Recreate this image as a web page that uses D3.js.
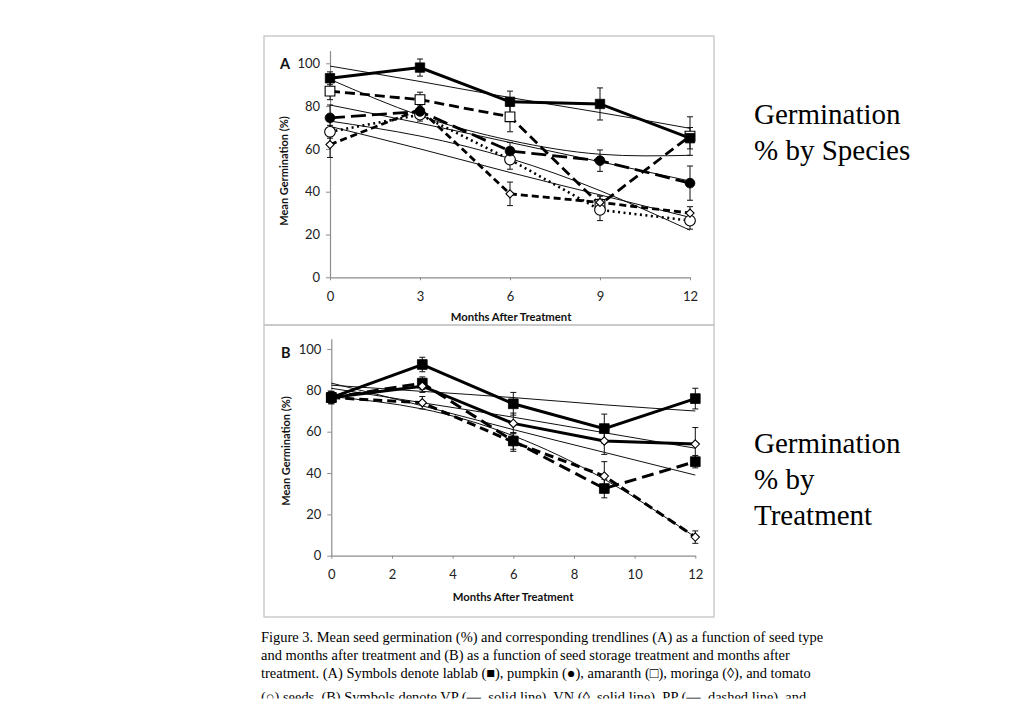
<!DOCTYPE html>
<html><head><meta charset="utf-8">
<script src="https://cdn.jsdelivr.net/npm/d3@7"></script>
<style>
html,body{margin:0;padding:0;background:#fff;}
svg{display:block;}
</style></head>
<body>
<svg id="c" width="1024" height="724"></svg>
<script>
// ---------- Panel A data (by species) ----------
const monthsA = [0, 3, 6, 9, 12];
const xTicksA = [0, 3, 6, 9, 12];
const yTicks = [0, 20, 40, 60, 80, 100];
const lablab = [93, 98, 82, 81, 65];
const lablabErr = [3, 4, 5, 7.5, 5];
const lablabTrend = [98.7, 91.5, 84, 77, 69.6];
const amaranth = [87, 83, 75, 34, 66];
const amaranthErr = [4, 3.5, 7, 4, 9];
const amaranthTrend = [92.5, 75.5, 64, 57.5, 57];
const pumpkin = [74.5, 77.5, 59, 54.5, 44];
const pumpkinErr = [6, 3, 4, 5, 8];
const pumpkinTrend = [80.5, 72, 63, 54, 45];
const moringa = [62, 78.5, 39, 35, 30];
const moringaErr = [6, 3, 5.5, 3, 3];
const moringaTrend = [70.5, 60, 49, 38.5, 28];
const tomato = [68, 76, 55, 31.5, 26.5];
const tomatoErr = [3, 3, 4.5, 5, 4];
const tomatoTrend = [73, 66, 55.5, 40.5, 22];

// ---------- Panel B data (by treatment) ----------
const monthsB = [0, 3, 6, 9, 12];
const xTicksB = [0, 2, 4, 6, 8, 10, 12];
const VP = [76.5, 92.5, 73.5, 61.5, 76];
const VPErr = [2.5, 3.5, 5.5, 7, 5];
const VPTrend = [82.5, 79.5, 76.5, 73, 70];
const VN = [76.5, 82, 64, 55.5, 54];
const VNErr = [3, 3, 5, 6.5, 8];
const VNTrend = [81, 74, 67, 59.5, 52];
const PP = [76.5, 83.5, 55.5, 32.5, 45.5];
const PPErr = [2.5, 3, 4, 4.5, 3];
const PPTrend = [83.5, 72.5, 61, 50, 39];
const PN = [76.5, 74, 55, 38.5, 9];
const PNErr = [3, 3, 4.5, 7, 3];
const PNTrend = [77, 71, 58, 37, 9];

const captionLines = [
  "Figure 3. Mean seed germination (%) and corresponding trendlines (A) as a function of seed type",
  "and months after treatment and (B) as a function of seed storage treatment and months after",
  "treatment. (A) Symbols denote lablab (\u25A0), pumpkin (\u25CF), amaranth (\u25A1), moringa (\u25CA), and tomato",
  "(\u25CB) seeds.  (B) Symbols denote VP (\u25AC, solid line), VN (\u25CA, solid line), PP (\u25AC, dashed line), and"
];

const svg = d3.select("#c");
const chartFont = "Lato, 'Open Sans', sans-serif";

function panel(cfg) {
  const g = svg.append("g");
  g.append("rect").attr("x", cfg.frame[0]).attr("y", cfg.frame[1])
    .attr("width", cfg.frame[2]).attr("height", cfg.frame[3])
    .attr("fill", "none").attr("stroke", "#c4c4c4").attr("stroke-width", 1.3);
  const x = d3.scaleLinear().domain([0, 12]).range(cfg.xr);
  const y = d3.scaleLinear().domain([0, 100]).range(cfg.yr);
  const yAxisScale = d3.scaleLinear().domain([0, cfg.ymax]).range([y(0), y(cfg.ymax)]);
  const ya = g.append("g").attr("transform", `translate(${x(0)},0)`)
    .call(d3.axisLeft(yAxisScale).tickValues(yTicks).tickSize(4).tickSizeOuter(0).tickPadding(6));
  const xa = g.append("g").attr("transform", `translate(0,${y(0)})`)
    .call(d3.axisBottom(x).tickValues(cfg.xticks).tickSize(3).tickSizeOuter(0).tickPadding(11));
  [ya, xa].forEach(a => {
    a.select(".domain").attr("stroke", "#8c8c8c").attr("stroke-width", 1.2);
    a.selectAll(".tick line").attr("stroke", "#8c8c8c");
    a.selectAll(".tick text").attr("fill", "#222").style("font-family", chartFont).style("font-size", "13px");
  });
  g.append("text").attr("x", cfg.xlab[0]).attr("y", cfg.xlab[1]).attr("text-anchor", "middle")
    .style("font-family", chartFont).style("font-weight", "bold").style("font-size", "11.3px").attr("fill", "#111")
    .text("Months After Treatment");
  g.append("text").attr("transform", `translate(${cfg.ylab[0]},${cfg.ylab[1]}) rotate(-90)`).attr("text-anchor", "middle")
    .style("font-family", chartFont).style("font-weight", "bold").style("font-size", "11px").attr("fill", "#111")
    .text("Mean Germination (%)");
  g.append("text").attr("x", cfg.letter[0]).attr("y", cfg.letter[1])
    .style("font-family", chartFont).style("font-weight", "bold").style("font-size", "14.5px").attr("fill", "#111")
    .text(cfg.letterText);

  const months = cfg.months;
  const trendLine = d3.line().x((d, i) => x(months[i])).y(d => y(d)).curve(d3.curveNatural);
  const dataLine = d3.line().x((d, i) => x(months[i])).y(d => y(d));
  cfg.series.forEach(s => {
    g.append("path").attr("d", trendLine(s.trend)).attr("fill", "none")
      .attr("stroke", "#111").attr("stroke-width", 1);
  });
  cfg.series.forEach(s => {
    g.append("path").attr("d", dataLine(s.vals)).attr("fill", "none")
      .attr("stroke", "#000").attr("stroke-width", s.width)
      .attr("stroke-dasharray", s.dash || null);
  });
  cfg.series.forEach(s => {
    const eb = g.append("g").attr("stroke", "#111").attr("stroke-width", 1);
    s.vals.forEach((v, i) => {
      const cx = x(months[i]), e = s.err[i];
      eb.append("line").attr("x1", cx).attr("x2", cx).attr("y1", y(v + e)).attr("y2", y(v - e));
      eb.append("line").attr("x1", cx - 3).attr("x2", cx + 3).attr("y1", y(v + e)).attr("y2", y(v + e));
      eb.append("line").attr("x1", cx - 3).attr("x2", cx + 3).attr("y1", y(v - e)).attr("y2", y(v - e));
    });
  });
  cfg.series.forEach(s => {
    const sym = d3.symbol().type(s.sym).size(s.size);
    g.append("g").selectAll("path").data(s.vals).join("path")
      .attr("transform", (d, i) => `translate(${x(months[i])},${y(d)})`)
      .attr("d", sym)
      .attr("fill", s.filled ? "#000" : "#fff")
      .attr("stroke", "#000").attr("stroke-width", s.filled ? 0.8 : 1.1);
  });
}

panel({
  frame: [264, 36, 450, 289],
  xr: [330, 690], yr: [277.3, 63.3], ymax: 106,
  xticks: xTicksA, months: monthsA,
  xlab: [511, 321], ylab: [288, 171], letter: [280, 69], letterText: "A",
  series: [
    {vals: amaranth, err: amaranthErr, trend: amaranthTrend, width: 2.8, dash: "10,5", sym: d3.symbolSquare, size: 95, filled: false},
    {vals: tomato, err: tomatoErr, trend: tomatoTrend, width: 2.6, dash: "2,3.5", sym: d3.symbolCircle, size: 90, filled: false},
    {vals: moringa, err: moringaErr, trend: moringaTrend, width: 2.8, dash: "7,4", sym: d3.symbolDiamond2, size: 42, filled: false},
    {vals: pumpkin, err: pumpkinErr, trend: pumpkinTrend, width: 2.8, dash: "15,6", sym: d3.symbolCircle, size: 75, filled: true},
    {vals: lablab, err: lablabErr, trend: lablabTrend, width: 3, dash: null, sym: d3.symbolSquare, size: 88, filled: true}
  ]
});

panel({
  frame: [264, 325, 450, 292],
  xr: [331.3, 695.3], yr: [555.7, 349], ymax: 105,
  xticks: xTicksB, months: monthsB,
  xlab: [513, 601], ylab: [290, 451], letter: [281, 358], letterText: "B",
  series: [
    {vals: PN, err: PNErr, trend: PNTrend, width: 3, dash: "9,5", sym: d3.symbolDiamond2, size: 45, filled: false},
    {vals: PP, err: PPErr, trend: PPTrend, width: 3, dash: "12,6", sym: d3.symbolSquare, size: 95, filled: true},
    {vals: VN, err: VNErr, trend: VNTrend, width: 3, dash: null, sym: d3.symbolDiamond2, size: 45, filled: false},
    {vals: VP, err: VPErr, trend: VPTrend, width: 3, dash: null, sym: d3.symbolSquare, size: 95, filled: true}
  ]
});

const serif = "'Liberation Serif', 'Times New Roman', serif";
const side = svg.append("g").style("font-family", serif).style("font-size", "29px").attr("fill", "#000");
[["Germination", 124], ["% by Species", 160], ["Germination", 453], ["% by", 489], ["Treatment", 525]]
  .forEach(([t, yy]) => side.append("text").attr("x", 754).attr("y", yy).text(t));

svg.append("clipPath").attr("id", "capclip").append("rect").attr("x", 0).attr("y", 0).attr("width", 1024).attr("height", 698.5);
const cap = svg.append("g").attr("clip-path", "url(#capclip)")
  .style("font-family", serif).style("font-size", "14.45px").attr("fill", "#000");
[642, 660, 678, 702].forEach((yy, i) => cap.append("text").attr("x", 261).attr("y", yy).text(captionLines[i]));
</script>
</body></html>
